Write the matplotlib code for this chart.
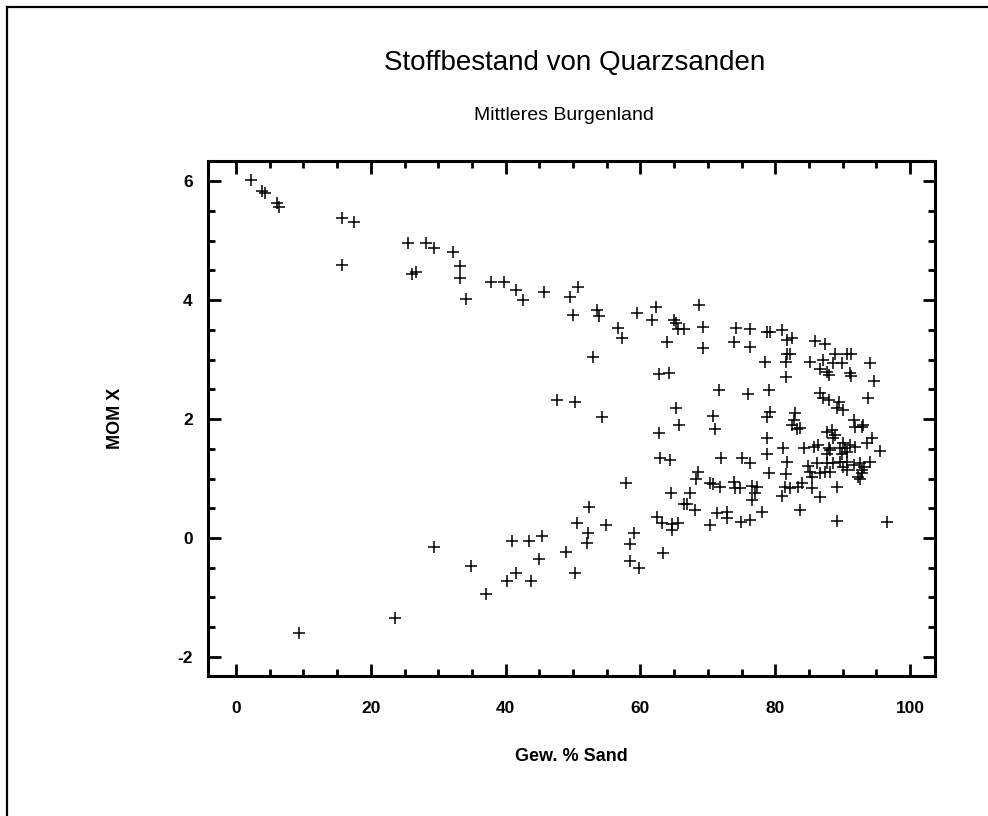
import matplotlib
matplotlib.use("Agg")
import matplotlib.pyplot as plt
from matplotlib.ticker import MultipleLocator
from matplotlib.lines import Line2D

plt.rcParams['font.family'] = ['Liberation Sans', 'DejaVu Sans']
plt.rcParams['axes.unicode_minus'] = False

# Gew. % Sand vs. MOM X
sand = [
    2.3, 3.9, 4.3, 6.1, 6.4, 15.8, 17.5, 15.7, 25.5, 28.2, 29.4, 32.2, 26.1, 26.7,
    33.3, 33.3, 34.1, 37.9, 39.8, 41.6, 42.6, 45.7, 49.6, 50.7, 50.0, 53.5, 53.8,
    56.6, 57.2, 59.5, 61.7, 62.3, 65.0, 65.2, 65.5, 66.4, 64.0, 68.7, 69.2, 74.2,
    76.3, 78.8, 79.2, 81.0, 81.7, 82.4, 73.8, 76.3, 69.3, 85.9, 87.4, 81.7, 82.2,
    81.6, 78.5, 85.2, 87.1, 88.9, 90.6, 91.2, 88.6, 89.9, 86.6, 87.6, 87.9, 91.1,
    91.2, 94.1, 94.7, 81.6, 71.7, 76.0, 79.1, 86.6, 87.1, 87.9, 89.4, 89.1, 90.1,
    93.8, 79.2, 78.8, 70.7, 71.1, 82.9, 82.7, 83.2, 82.4, 83.7, 91.6, 91.8, 92.8,
    93.0, 87.6, 88.4, 88.9, 88.6, 78.7, 81.2, 84.2, 85.7, 86.4, 90.1, 90.4, 90.6,
    89.9, 89.6, 91.1, 91.8, 93.6, 94.3, 95.5, 88.1, 87.6, 87.9, 78.7, 71.9, 75.0,
    76.2, 81.7, 84.9, 86.2, 87.6, 88.6, 89.6, 90.6, 90.1, 90.6, 91.6, 92.6, 92.8,
    93.1, 94.1, 92.3, 92.8, 92.6, 85.2, 85.4, 86.6, 87.4, 88.1, 79.1, 81.6, 81.5,
    82.2, 83.4, 83.9, 81.0, 85.4, 86.6, 89.1, 68.6, 68.3, 70.3, 70.8, 71.8, 73.8,
    74.0, 74.8, 76.5, 77.3, 77.0, 76.5, 67.4, 66.4, 66.9, 68.1, 71.3, 72.8, 72.8,
    74.9, 76.3, 78.0, 83.7, 89.1, 96.5, 70.3,
    52.4, 50.6, 54.9, 52.2, 52.0, 45.4, 43.5, 41.0, 45.0, 48.9, 50.3, 41.5, 40.2,
    43.8, 34.8, 37.1, 59.1, 58.5, 58.4, 59.8, 62.4, 63.2, 64.6, 65.6, 64.6, 63.4,
    29.4, 23.6, 9.3,
    53.0, 62.8, 64.3, 47.6, 50.3, 54.3, 65.3, 65.7, 62.7, 62.9, 64.4, 57.9, 64.5,
]
mom_x = [
    6.02, 5.83, 5.80, 5.63, 5.56, 5.39, 5.31, 4.59, 4.97, 4.97, 4.87, 4.81, 4.44, 4.47,
    4.58, 4.37, 4.02, 4.31, 4.31, 4.18, 4.00, 4.14, 4.05, 4.22, 3.75, 3.83, 3.73,
    3.53, 3.37, 3.78, 3.66, 3.89, 3.66, 3.61, 3.52, 3.52, 3.30, 3.92, 3.55, 3.54,
    3.51, 3.47, 3.47, 3.50, 3.33, 3.36, 3.29, 3.22, 3.19, 3.32, 3.26, 3.09, 3.09,
    2.96, 2.96, 2.96, 2.99, 3.09, 3.10, 3.10, 2.94, 2.94, 2.85, 2.79, 2.74, 2.78,
    2.72, 2.94, 2.64, 2.71, 2.49, 2.43, 2.49, 2.44, 2.35, 2.32, 2.29, 2.18, 2.15,
    2.36, 2.12, 2.03, 2.05, 1.83, 2.10, 1.98, 1.84, 1.90, 1.85, 1.98, 1.87, 1.87,
    1.90, 1.79, 1.82, 1.73, 1.68, 1.68, 1.51, 1.51, 1.53, 1.56, 1.59, 1.51, 1.45,
    1.42, 1.51, 1.56, 1.53, 1.59, 1.68, 1.47, 1.48, 1.41, 1.51, 1.41, 1.34, 1.34,
    1.26, 1.28, 1.21, 1.26, 1.26, 1.27, 1.28, 1.28, 1.20, 1.14, 1.23, 1.26, 1.14,
    1.20, 1.28, 1.03, 1.09, 1.00, 1.11, 1.03, 1.09, 1.11, 1.11, 1.09, 1.08, 0.86,
    0.84, 0.86, 0.92, 0.71, 0.84, 0.69, 0.85, 1.11, 1.00, 0.92, 0.91, 0.86, 0.95,
    0.84, 0.84, 0.87, 0.86, 0.75, 0.64, 0.75, 0.58, 0.58, 0.47, 0.42, 0.44, 0.33,
    0.27, 0.30, 0.43, 0.47, 0.29, 0.27, 0.22,
    0.53, 0.25, 0.22, 0.08, -0.09, 0.03, -0.05, -0.05, -0.36, -0.24, -0.58, -0.58, -0.73,
    -0.72, -0.47, -0.94, 0.09, -0.10, -0.39, -0.50, 0.35, 0.26, 0.24, 0.25, 0.13, -0.25,
    -0.15, -1.35, -1.60,
    3.04, 2.76, 2.78, 2.33, 2.28, 2.04, 2.18, 1.90, 1.76, 1.34, 1.32, 0.92, 0.76,
]

x_ticks = [0, 20, 40, 60, 80, 100]
y_ticks = [-2, 0, 2, 4, 6]

fig = plt.figure(figsize=(9.88, 8.16), dpi=100)
ax = fig.add_axes([0.2105, 0.1716, 0.736, 0.631])

ax.plot(sand, mom_x, linestyle="none", marker="+", color="black",
        markersize=8, markeredgewidth=1.1)

ax.set_xlim(-4.15, 103.7)
ax.set_ylim(-2.32, 6.34)
ax.set_xticks(x_ticks)
ax.set_yticks(y_ticks)
ax.xaxis.set_minor_locator(MultipleLocator(5))
ax.yaxis.set_minor_locator(MultipleLocator(0.5))

for s in ax.spines.values():
    s.set_linewidth(2.2)

ax.tick_params(which="both", direction="in", top=True, right=True, width=2)
ax.tick_params(which="major", length=9)
ax.tick_params(which="minor", length=5)
ax.tick_params(axis="x", which="major", pad=18, labelsize=12.5)
ax.tick_params(axis="y", which="major", pad=11, labelsize=12.5)
for lbl in ax.get_xticklabels() + ax.get_yticklabels():
    lbl.set_fontweight("bold")

ax.set_xlabel("Gew. % Sand", fontsize=13, fontweight="bold", labelpad=23)
ax.set_ylabel("MOM X", fontsize=13, fontweight="bold")
ax.yaxis.set_label_coords(-0.1155, 0.5)

fig.text(575 / 988, 1 - 63 / 816, "Stoffbestand von Quarzsanden",
         ha="center", va="center", fontsize=20)
fig.text(564 / 988, 1 - 115 / 816, "Mittleres Burgenland",
         ha="center", va="center", fontsize=14)

# outer frame of the scanned page (only top and left edges are visible)
fig.add_artist(Line2D([7 / 988, 7 / 988], [-0.1, 1 - 7 / 816], color="black", linewidth=1.6))
fig.add_artist(Line2D([7 / 988, 1.1], [1 - 7 / 816, 1 - 7 / 816], color="black", linewidth=1.6))

fig.savefig("out.png", dpi=100)
